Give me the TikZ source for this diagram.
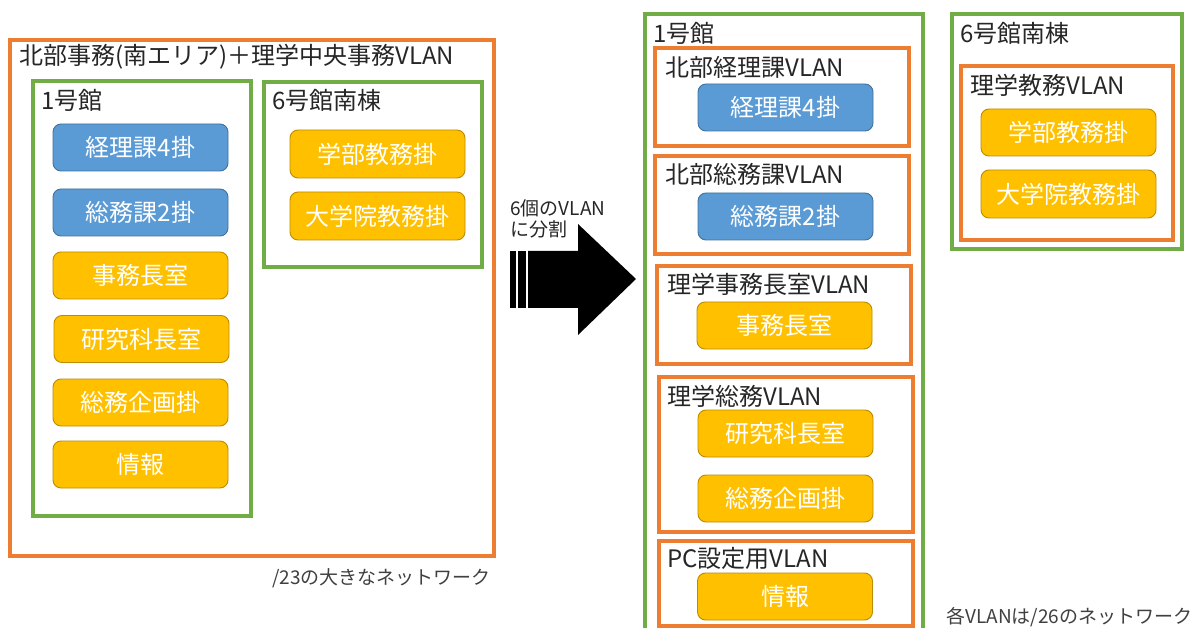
\documentclass[tikz,border=0pt]{standalone}
\usepackage{fontspec}
\setmainfont{Noto Sans CJK JP}
\definecolor{orng}{HTML}{ED7D31}
\definecolor{grn}{HTML}{70AD47}
\definecolor{bluef}{HTML}{5B9BD5}
\definecolor{blued}{HTML}{41719C}
\definecolor{yelf}{HTML}{FFC000}
\definecolor{yeld}{HTML}{BC8C00}
\definecolor{txt}{HTML}{262626}
\definecolor{cap}{HTML}{404040}
\tikzset{
  obox/.style={draw=orng, line width=3.2pt, rectangle, inner sep=0pt},
  gbox/.style={draw=grn, line width=3.2pt, rectangle, inner sep=0pt},
  bluebox/.style={draw=blued, fill=bluef, line width=0.9pt, rounded corners=8pt, rectangle, minimum width=175pt, minimum height=47pt, text=white, font=\fontsize{24}{28}\selectfont, inner sep=0pt},
  yelbox/.style={draw=yeld, fill=yelf, line width=0.9pt, rounded corners=8pt, rectangle, minimum width=175pt, minimum height=47pt, text=white, font=\fontsize{24}{28}\selectfont, inner sep=0pt},
  lbl/.style={anchor=west, inner sep=0pt, text=txt, font=\fontsize{24}{28}\selectfont},
  capt/.style={anchor=west, inner sep=0pt, text=cap, font=\fontsize{19}{22}\selectfont},
}
\begin{document}
\begin{tikzpicture}[x=1pt,y=-1pt]
\useasboundingbox (0,0) rectangle (1194,628);
\clip (0,0) rectangle (1194,628);
\fill[white] (0,0) rectangle (1194,628);

% left side
\node[obox, minimum width=484pt, minimum height=516pt] (L) at (252,298) {};
\node[lbl] (Ltitle) at (19,57) {北部事務(南エリア)＋理学中央事務VLAN};
\node[gbox, minimum width=218pt, minimum height=435pt] (L1) at (142,298.5) {};
\node[lbl] (L1t) at (41,100) {1号館};
\node[gbox, minimum width=218pt, minimum height=185pt] (L6) at (373,174.5) {};
\node[lbl] (L6t) at (272,100) {6号館南棟};

\node[bluebox] (lk4) at (140.5,147.5) {経理課4掛};
\node[bluebox] (ls2) at (140.5,212.5) {総務課2掛};
\node[yelbox] (ljm) at (140.5,275.5) {事務長室};
\node[yelbox] (lkk) at (141.5,339) {研究科長室};
\node[yelbox] (lsk) at (140.5,402.5) {総務企画掛};
\node[yelbox] (ljh) at (140.5,464.5) {情報};
\node[yelbox, minimum height=48pt] (lgk) at (377.5,154) {学部教務掛};
\node[yelbox, minimum height=48pt] (ldk) at (377.5,216) {大学院教務掛};

\node[capt] (cap1) at (272,578) {/23の大きなネットワーク};

% arrow
\node[capt, text=txt] (at1) at (510,208) {6個のVLAN};
\node[capt, text=txt] (at2) at (510,229) {に分割};
\fill[black] (528,251) -- (578,251) -- (578,224) -- (636,279) -- (578,335) -- (578,308) -- (528,308) -- cycle;
\fill[black] (510,251) rectangle (516,308);
\fill[black] (518,251) rectangle (526,308);

% right middle
\node[gbox, minimum width=278pt, minimum height=640pt] (R1) at (784,334) {};
\node[lbl] (R1t) at (653,33) {1号館};

\node[obox, minimum width=254pt, minimum height=98pt] (v1) at (782,97) {};
\node[lbl] (v1t) at (665,67) {北部経理課VLAN};
\node[bluebox] (rk4) at (785.5,107.5) {経理課4掛};

\node[obox, minimum width=254pt, minimum height=98pt] (v2) at (782,205) {};
\node[lbl] (v2t) at (665,174) {北部総務課VLAN};
\node[bluebox] (rs2) at (785.5,216.5) {総務課2掛};

\node[obox, minimum width=254pt, minimum height=98pt] (v3) at (784,315) {};
\node[lbl] (v3t) at (667,284) {理学事務長室VLAN};
\node[yelbox] (rjm) at (784.5,325.5) {事務長室};

\node[obox, minimum width=254pt, minimum height=155pt] (v4) at (786,454.5) {};
\node[lbl] (v4t) at (667,396) {理学総務VLAN};
\node[yelbox] (rkk) at (785.5,433.5) {研究科長室};
\node[yelbox] (rsk) at (785.5,498.5) {総務企画掛};

\node[obox, minimum width=254pt, minimum height=85pt] (v5) at (786,583.5) {};
\node[lbl] (v5t) at (667,558) {PC設定用VLAN};
\node[yelbox] (rjh) at (785,596.5) {情報};

% right
\node[gbox, minimum width=230pt, minimum height=235pt] (R6) at (1067,131.5) {};
\node[lbl] (R6t) at (960,33) {6号館南棟};
\node[obox, minimum width=212pt, minimum height=174pt] (v6) at (1067,153) {};
\node[lbl] (v6t) at (970,85) {理学教務VLAN};
\node[yelbox] (rgk) at (1068.5,132.5) {学部教務掛};
\node[yelbox, minimum height=48pt] (rdk) at (1068.5,194) {大学院教務掛};

\node[capt] (cap2) at (946,617) {各VLANは/26のネットワーク};
\end{tikzpicture}
\end{document}
